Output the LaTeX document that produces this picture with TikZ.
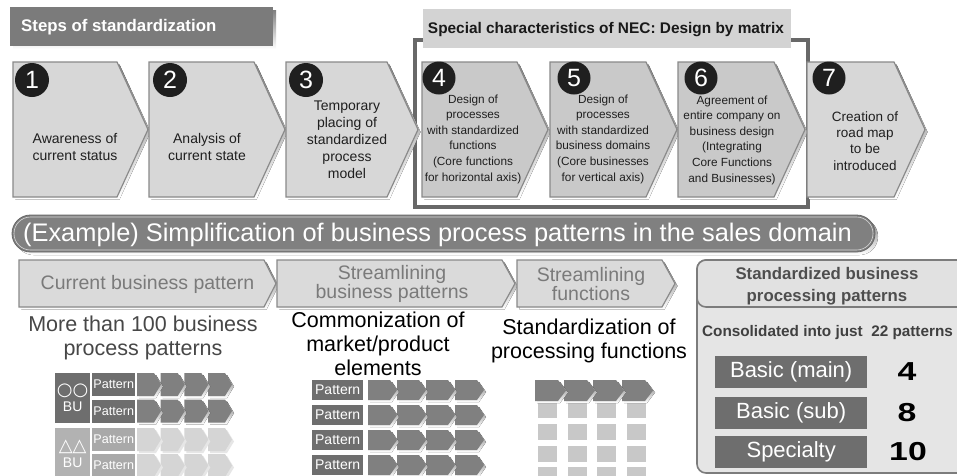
\documentclass[tikz,border=0pt]{standalone}
\usepackage{fontspec}
\setmainfont{Liberation Sans}
\newfontfamily\symfont{DejaVu Sans}
\usetikzlibrary{shapes.geometric}

\definecolor{titlegray}{HTML}{7B7B7B}
\definecolor{darkbox}{HTML}{6E6E6E}
\definecolor{chevdark}{HTML}{808080}
\definecolor{chevlight}{HTML}{D5D5D5}
\definecolor{lightbox}{HTML}{B2B2B2}
\definecolor{lightpat}{HTML}{A9A9A9}
\definecolor{stepA}{HTML}{D7D7D7}
\definecolor{stepB}{HTML}{C9C9C9}
\definecolor{stepline}{HTML}{8A8A8A}
\definecolor{shade}{HTML}{BEBEBE}
\definecolor{paleshade}{HTML}{E6E6E6}
\definecolor{framegray}{HTML}{686868}
\definecolor{labelgray}{HTML}{D3D3D3}
\definecolor{hdrfill}{HTML}{DADADA}
\definecolor{hdrtext}{HTML}{7A7A7A}
\definecolor{bannergray}{HTML}{808080}
\definecolor{panelfill}{HTML}{E5E5E5}
\definecolor{panelhead}{HTML}{E1E1E1}
\definecolor{panelline}{HTML}{7C7C7C}
\definecolor{paneltext}{HTML}{4E4E4E}
\definecolor{cellgray}{HTML}{C8C8C8}

% big step chevron: left edge, tip x, fill colour
\newcommand\stepchev[3]{%
  \fill[shade] ({#1+2.5},64.5) -- ({#2-31+2.5},64.5) -- ({#2+2.5},132) -- ({#2-31+2.5},199.5) -- ({#1+2.5},199.5) -- cycle;
  \filldraw[fill=#3, draw=stepline, line width=1.2pt] (#1,62) -- ({#2-31},62) -- (#2,129.5) -- ({#2-31},197) -- (#1,197) -- cycle;}

% header chevron of the second row: left edge, straight end, tip x
\newcommand\hdrchev[3]{%
  \fill[shade] ({#1+2.5},262.5) -- ({#2+2.5},262.5) -- ({#3+2.5},286) -- ({#2+2.5},309.5) -- ({#1+2.5},309.5) -- cycle;
  \filldraw[fill=hdrfill, draw=stepline, line width=1.2pt] (#1,260) -- (#2,260) -- (#3,283.5) -- (#2,307) -- (#1,307) -- cycle;}

% small process chevron: x, top, straight width, height, tip depth, fill, shadow
\newcommand\mchev[7]{%
  \fill[#7] ({#1+2},{#2+2}) -- ++(#3,0) -- ++(#5,{#4/2}) -- ++({-#5},{#4/2}) -- ++({-#3},0) -- cycle;
  \fill[#6] (#1,#2) -- ++(#3,0) -- ++(#5,{#4/2}) -- ++({-#5},{#4/2}) -- ++({-#3},0) -- cycle;}

\begin{document}
\begin{tikzpicture}[x=1pt,y=-1pt,
  txt/.style={inner sep=0pt, align=center},
  numcirc/.style={circle, fill=black!88, text=white, minimum size=34pt, inner sep=0pt,
    font=\fontsize{25}{25}\selectfont},
  steptxt/.style={txt, text=black!88, font=\fontsize{14}{17}\selectfont},
  smalltxt/.style={txt, text=black!88, font=\fontsize{11.8}{15.6}\selectfont},
  hdrtxt/.style={txt, text=hdrtext, font=\fontsize{19.5}{18.5}\selectfont},
  bigtxt/.style={txt, font=\fontsize{21.5}{24}\selectfont},
  patbox/.style={fill=darkbox, text=white, inner sep=0pt, anchor=north west},
  kindbox/.style={fill=darkbox, text=white, inner sep=0pt, anchor=north west,
    minimum width=152pt, minimum height=32pt, font=\fontsize{22}{22}\selectfont},
  countnum/.style={txt, text=black, font=\bfseries\fontsize{26}{26}\selectfont}]

\clip (0,0) rectangle (957,475);
\fill[white] (0,0) rectangle (957,475);

% ---- title of the step row
\fill[shade] (13,10) rectangle (276,49);
\fill[titlegray] (10,7) rectangle (273,46);
\node[txt, anchor=west, text=white, font=\bfseries\fontsize{16.8}{17}\selectfont] (stepstitle) at (21,27) {Steps of standardization};

% ---- frame around steps 4 to 6 with its label
\draw[framegray, line width=3.5pt, fill=white] (415,40) rectangle (808,207);
\fill[labelgray] (423,9) rectangle (791,48);
\node[txt, text=black!90, font=\bfseries\fontsize{15.4}{16}\selectfont] (necttl) at (606,30) {Special characteristics of NEC: Design by matrix};

% ---- the seven steps
\stepchev{13}{148}{stepA}
\stepchev{149}{285}{stepA}
\stepchev{286}{418}{stepA}
\stepchev{422}{548}{stepB}
\stepchev{550}{677}{stepB}
\stepchev{678}{805}{stepB}
\stepchev{807}{925}{stepA}

\node[numcirc] (c1) at (32,80) {1};
\node[numcirc] (c2) at (170,80) {2};
\node[numcirc] (c3) at (306,80) {3};
\node[numcirc, minimum size=33pt] (c4) at (439,78) {4};
\node[numcirc, minimum size=33pt] (c5) at (574,78) {5};
\node[numcirc, minimum size=33pt] (c6) at (701,78) {6};
\node[numcirc, minimum size=33pt] (c7) at (829,78) {7};

\node[steptxt] (s1) at (75,147) {Awareness of\\current status};
\node[steptxt] (s2) at (207,147) {Analysis of\\current state};
\node[steptxt] (s3) at (347,140) {Temporary\\placing of\\standardized\\process\\model};
\node[smalltxt] (s4) at (473,139) {Design of\\processes\\with standardized\\functions\\(Core functions\\for horizontal axis)};
\node[smalltxt] (s5) at (603,139) {Design of\\processes\\with standardized\\business domains\\(Core businesses\\for vertical axis)};
\node[smalltxt] (s6) at (732,140) {Agreement of\\entire company on\\business design\\(Integrating\\Core Functions\\and Businesses)};
\node[steptxt, font=\fontsize{13.5}{16.2}\selectfont] (s7) at (865,141) {Creation of\\road map\\to be\\introduced};

% ---- example banner
\fill[shade, rounded corners=18.5pt] (15,218) rectangle (878,255);
\filldraw[fill=bannergray, draw=black!60, line width=0.8pt, rounded corners=18.5pt] (12,215) rectangle (875,252);
\draw[white!85!black, line width=0.6pt, rounded corners=16.5pt] (14,217) rectangle (873,250);
\node[txt, text=white, font=\fontsize{25.4}{26}\selectfont] (banner) at (437.5,234.5) {(Example) Simplification of business process patterns in the sales domain};

% ---- second row of headers
\hdrchev{19}{264}{276}
\hdrchev{277}{502}{515}
\hdrchev{517}{662}{675}
\node[hdrtxt] (h1) at (147.5,284) {Current business pattern};
\node[hdrtxt] (h2) at (392,284) {Streamlining\\business patterns};
\node[hdrtxt] (h3) at (591,284) {Streamlining\\functions};

\node[bigtxt, text=black!72] (t1) at (143,337.5) {More than 100 business\\process patterns};
\node[bigtxt, text=black] (t2) at (378,343.5) {Commonization of\\market/product\\elements};
\node[bigtxt, text=black] (t3) at (589,341) {Standardization of\\processing functions};

% ---- current patterns grouped by business unit
\node[patbox, minimum width=35pt, minimum height=50pt, align=center,
  font=\fontsize{14}{16}\selectfont] (bu1) at (55,373) {{\symfont\fontsize{18}{17}\selectfont ○○}\\BU};
\node[patbox, fill=lightbox, minimum width=35pt, minimum height=52pt, align=center,
  font=\fontsize{14}{16}\selectfont] (bu2) at (55,428) {{\symfont\fontsize{18}{17}\selectfont △△}\\BU};
\foreach \ry/\rc/\pc/\sc in {373/chevdark/darkbox/shade, 399.5/chevdark/darkbox/shade,
                             428/chevlight/lightpat/paleshade, 454/chevlight/lightpat/paleshade} {
  \foreach \cx in {208,184.3,160.7,137} {\mchev{\cx}{\ry}{17}{23}{7}{\rc}{\sc}}
  \node[patbox, fill=\pc, minimum width=43pt, minimum height=23pt,
    font=\fontsize{12.6}{13}\selectfont] at (92,\ry) {Pattern};
}

% ---- common patterns
\foreach \ry in {380,405,430,455} {
  \foreach \cx in {455,426,397,368} {\mchev{\cx}{\ry}{22}{20}{7}{chevdark}{shade}}
  \node[patbox, minimum width=51pt, minimum height=20pt,
    font=\fontsize{14}{14}\selectfont] at (312,\ry) {Pattern};
}

% ---- standardized processing functions
\foreach \cx in {538,568,597,627} {
  \foreach \ry in {402,424,446,467} {\fill[cellgray] (\cx,\ry) rectangle ++(19,16);}
}
\foreach \cx in {622,593,564,535} {\mchev{\cx}{380}{23}{21}{8}{chevdark}{shade}}

% ---- result panel
\filldraw[fill=panelfill, draw=panelline, line width=1.6pt, rounded corners=9pt] (697,260) rectangle (985,473);
\filldraw[fill=panelhead, draw=panelline, line width=1.6pt, rounded corners=9pt] (697,260) rectangle (985,307);
\node[txt, text=paneltext, font=\bfseries\fontsize{16.8}{22}\selectfont] (ptitle) at (827,286) {Standardized business\\processing patterns};
\node[txt, text=black!75, font=\bfseries\fontsize{15.3}{16}\selectfont] (consol) at (827.5,333) {Consolidated into just\ \ 22 patterns};

\node[kindbox] (k1) at (715,356) {Basic (main)};
\node[kindbox] (k2) at (715,397) {Basic (sub)};
\node[kindbox] (k3) at (715,436) {Specialty};
\node[countnum] (n1) at (907,372) {\scalebox{1.3}[1]{4}};
\node[countnum] (n2) at (907,413) {\scalebox{1.3}[1]{8}};
\node[countnum] (n3) at (908,452) {\scalebox{1.3}[1]{10}};

\end{tikzpicture}
\end{document}
